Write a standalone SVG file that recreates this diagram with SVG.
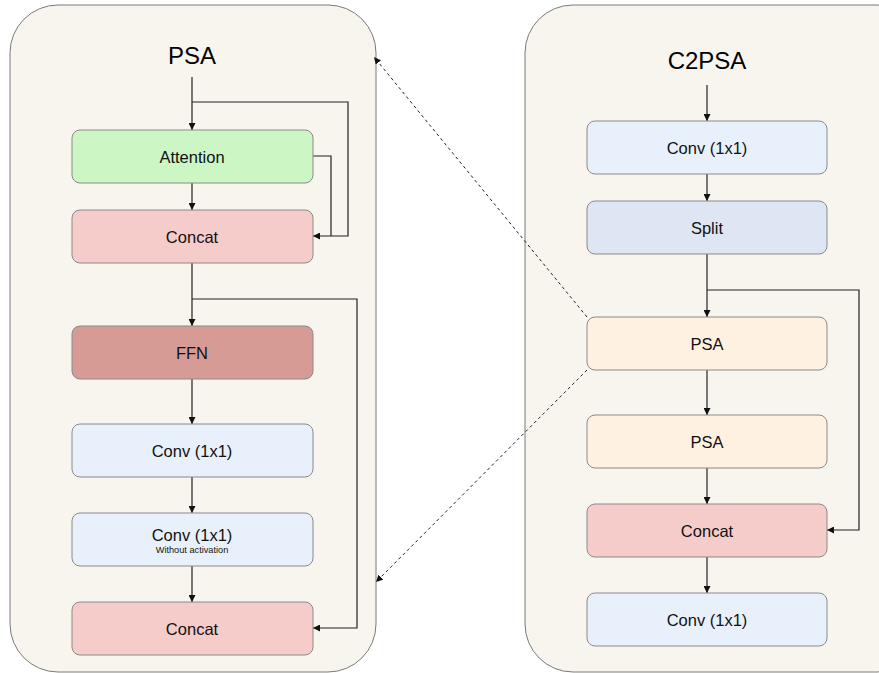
<svg xmlns="http://www.w3.org/2000/svg" width="879" height="673" viewBox="0 0 879 673">
<style>
.cont{fill:#f8f5ee;stroke:#7a7a7a;stroke-width:1}
.node{stroke:#8a8a8a;stroke-width:1}
.lbl{font-family:"Liberation Sans",Arial,sans-serif;font-size:16.5px;fill:#111;text-anchor:middle;dominant-baseline:central}
.title{font-family:"Liberation Sans",Arial,sans-serif;font-size:24px;fill:#000;text-anchor:middle;dominant-baseline:central}
.sub{font-family:"Liberation Sans",Arial,sans-serif;font-size:9.2px;fill:#111;text-anchor:middle;dominant-baseline:central}
.ln{fill:none;stroke:#222;stroke-width:1.2}
.dot{fill:none;stroke:#222;stroke-width:1;stroke-dasharray:3,3}
</style>
<defs>
<marker id="ah" viewBox="0 0 10 10" refX="10" refY="5" markerWidth="7" markerHeight="7" markerUnits="userSpaceOnUse" orient="auto">
<path d="M0,0 L10,5 L0,10 z" fill="#111"/>
</marker>
</defs>
<rect width="879" height="673" fill="#ffffff"/>
<g id="container-psa">
<rect class="cont" x="10" y="5" width="366" height="667" rx="48" ry="48"/>
<text class="title" x="192" y="55">PSA</text>
</g>
<g id="container-c2psa">
<rect class="cont" x="525" y="5" width="400" height="667" rx="48" ry="48"/>
<text class="title" x="707" y="60">C2PSA</text>
</g>
<g id="connectors">
<path class="ln" d="M192,77 V130" marker-end="url(#ah)"/>
<path class="ln" d="M192,102 H348 V236 H313" marker-end="url(#ah)"/>
<path class="ln" d="M313,156 H331 V236"/>
<path class="ln" d="M192,183 V210" marker-end="url(#ah)"/>
<path class="ln" d="M192,263 V326" marker-end="url(#ah)"/>
<path class="ln" d="M192,299 H357 V628 H313" marker-end="url(#ah)"/>
<path class="ln" d="M192,379 V424" marker-end="url(#ah)"/>
<path class="ln" d="M192,477 V513" marker-end="url(#ah)"/>
<path class="ln" d="M192,566 V602" marker-end="url(#ah)"/>
<path class="ln" d="M707,85 V121" marker-end="url(#ah)"/>
<path class="ln" d="M707,174 V201" marker-end="url(#ah)"/>
<path class="ln" d="M707,254 V317" marker-end="url(#ah)"/>
<path class="ln" d="M707,290 H859 V530 H827" marker-end="url(#ah)"/>
<path class="ln" d="M707,370 V415" marker-end="url(#ah)"/>
<path class="ln" d="M707,468 V504" marker-end="url(#ah)"/>
<path class="ln" d="M707,557 V593" marker-end="url(#ah)"/>
<path class="dot" d="M587,317 L374,57" marker-end="url(#ah)"/>
<path class="dot" d="M587,370 L376,582" marker-end="url(#ah)"/>
</g>
<g id="attention"><rect class="node" x="72" y="130" width="241" height="53" rx="8" fill="#ccf7c4"/><text class="lbl" x="192" y="157">Attention</text></g>
<g id="concat1"><rect class="node" x="72" y="210" width="241" height="53" rx="8" fill="#f6cccb"/><text class="lbl" x="192" y="237">Concat</text></g>
<g id="ffn"><rect class="node" x="72" y="326" width="241" height="53" rx="8" fill="#d69b95"/><text class="lbl" x="192" y="353">FFN</text></g>
<g id="conv-a"><rect class="node" x="72" y="424" width="241" height="53" rx="8" fill="#e8f1fb"/><text class="lbl" x="192" y="451">Conv (1x1)</text></g>
<g id="conv-b"><rect class="node" x="72" y="513" width="241" height="53" rx="8" fill="#e8f1fb"/><text class="lbl" x="192" y="535">Conv (1x1)</text><text class="sub" x="192" y="550">Without activation</text></g>
<g id="concat2"><rect class="node" x="72" y="602" width="241" height="53" rx="8" fill="#f6cccb"/><text class="lbl" x="192" y="629">Concat</text></g>
<g id="c-conv1"><rect class="node" x="587" y="121" width="240" height="53" rx="8" fill="#e8f1fb"/><text class="lbl" x="707" y="148">Conv (1x1)</text></g>
<g id="c-split"><rect class="node" x="587" y="201" width="240" height="53" rx="8" fill="#dde6f2"/><text class="lbl" x="707" y="228">Split</text></g>
<g id="c-psa1"><rect class="node" x="587" y="317" width="240" height="53" rx="8" fill="#fff1e1"/><text class="lbl" x="707" y="344">PSA</text></g>
<g id="c-psa2"><rect class="node" x="587" y="415" width="240" height="53" rx="8" fill="#fff1e1"/><text class="lbl" x="707" y="442">PSA</text></g>
<g id="c-concat"><rect class="node" x="587" y="504" width="240" height="53" rx="8" fill="#f6cccb"/><text class="lbl" x="707" y="531">Concat</text></g>
<g id="c-conv2"><rect class="node" x="587" y="593" width="240" height="53" rx="8" fill="#e8f1fb"/><text class="lbl" x="707" y="620">Conv (1x1)</text></g>
</svg>
